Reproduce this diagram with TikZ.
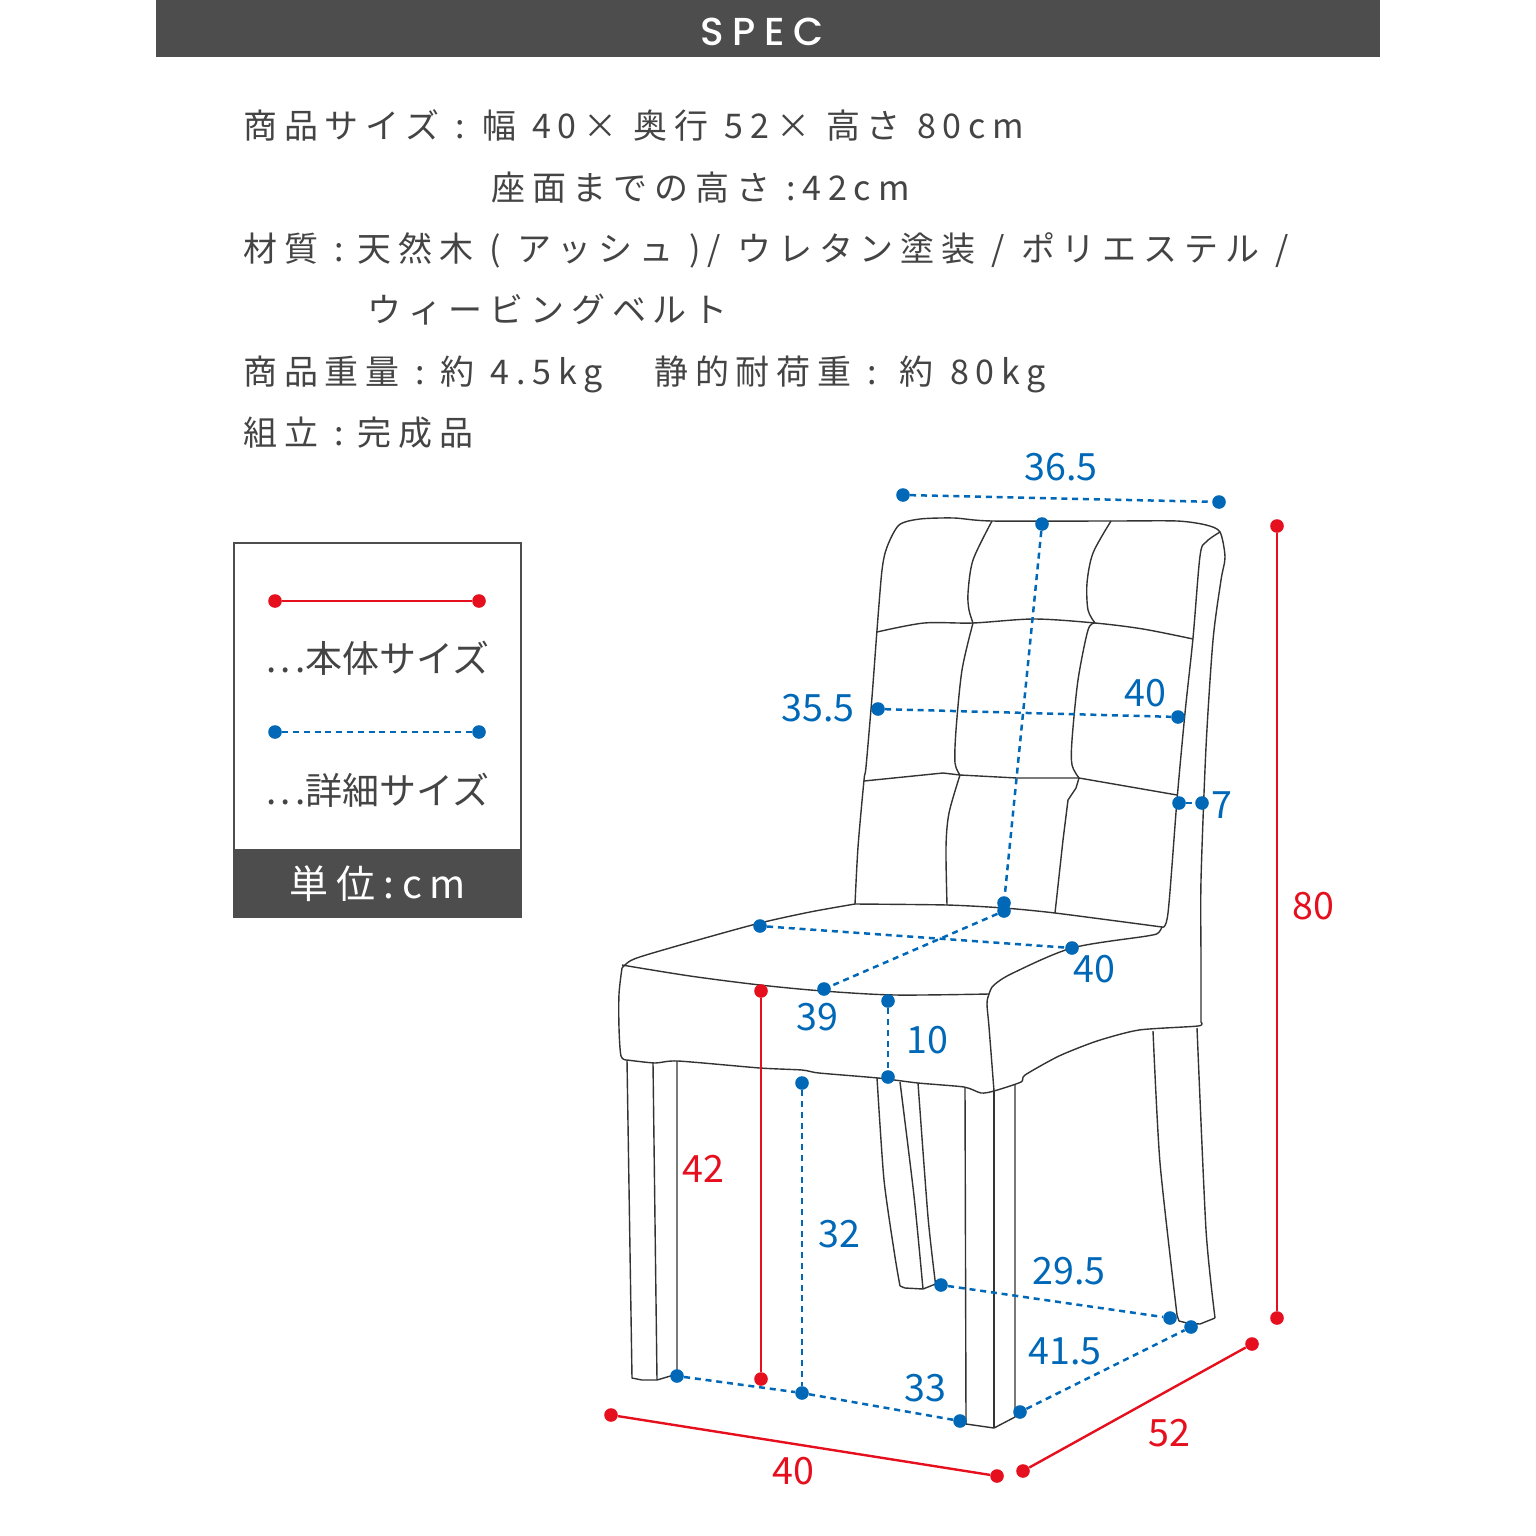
\documentclass[tikz,border=0pt]{standalone}
\usepackage{fontspec}
\usetikzlibrary{positioning}
\setmainfont{Noto Sans CJK JP}
\newfontfamily\spacedfont[LetterSpace=20,WordSpace=1.12]{Noto Sans CJK JP}
\newfontfamily\specfont[LetterSpace=22]{Poppins Medium}
\definecolor{banner}{HTML}{4D4D4D}
\definecolor{textgray}{HTML}{444444}
\definecolor{chairline}{HTML}{333333}
\definecolor{sizered}{HTML}{E60F1E}
\definecolor{sizeblue}{HTML}{0068B7}
\tikzset{
    reddot/.style={circle,fill=sizered,inner sep=0pt,minimum size=6.8pt},
    bluedot/.style={circle,fill=sizeblue,inner sep=0pt,minimum size=6.8pt},
    redline/.style={draw=sizered,line width=1.2pt},
    blueline/.style={draw=sizeblue,line width=1.25pt,dash pattern=on 3pt off 2.4pt},
    redlabel/.style={text=sizered,font=\fontsize{18.8}{20}\selectfont,inner sep=0pt},
    bluelabel/.style={text=sizeblue,font=\fontsize{18.8}{20}\selectfont,inner sep=0pt},
    specline/.style={anchor=base west,inner sep=0pt,text=textgray,font=\spacedfont\fontsize{17}{20}\selectfont},
    seat/.style={draw=chairline,line width=0.7pt,line join=round},
}
\begin{document}
\begin{tikzpicture}[x=0.5pt,y=-0.5pt]
    \useasboundingbox (0,0) rectangle (1536,1536);
    % header
    \fill[banner] (156,0) rectangle (1380,57);
    \node[text=white,inner sep=0pt,font=\specfont\fontsize{19.5}{20}\selectfont] (spec) at (762,32) {SPEC};
    % spec text
    \node[specline] (line1) at (243,139) {商品サイズ :\kern-2pt{} 幅 40× 奥行 52× 高さ 80cm};
    \node[specline] (line2) at (491,200) {座面までの高さ :42cm};
    \node[specline] (line3) at (243,261) {材質 :\kern-3.5pt{} 天然木 ( アッシュ )/ ウレタン塗装 / ポリエステル /};
    \node[specline] (line4) at (367,322) {ウィービングベルト};
    \node[specline] (line5) at (243,384) {商品重量 :\kern-3pt{} 約 4.5kg　\kern5.5pt{}静的耐荷重 :\kern1pt{} 約 80kg};
    \node[specline] (line6) at (243,445) {組立 :\kern-3.5pt{} 完成品};
    % legend
    \draw[banner,line width=1pt] (233.5,542.5) rectangle (520.5,917);
    \fill[banner] (233.5,849) rectangle (520.5,917);
    \node[reddot] (lega) at (275,601) {};
    \node[reddot] (legb) at (479,601) {};
    \draw[redline] (lega) -- (legb);
    \node[bluedot] (legc) at (275,732) {};
    \node[bluedot] (legd) at (479,732) {};
    \draw[blueline] (legc) -- (legd);
    \node[text=textgray,inner sep=0pt,font=\fontsize{18.5}{20}\selectfont] (legmain) at (378,658) {.\kern2pt.\kern2pt.本体サイズ};
    \node[text=textgray,inner sep=0pt,font=\fontsize{18.5}{20}\selectfont] (legdetail) at (378,790) {.\kern2pt.\kern2pt.詳細サイズ};
    \node[text=white,inner sep=0pt,font=\spacedfont\fontsize{19.5}{20}\selectfont] (legunit) at (378,884) {単位:cm};
    % chair back
    \draw[seat] plot[smooth,tension=.45] coordinates {(855,904) (858,847) (864,780) (866,767) (872,697) (877,630) (882,570) (887,547) (899,525) (920,519) (954,518) (992,521) (1111,521) (1177,521) (1206,525) (1220,532) (1225,557) (1221,580) (1213,640) (1206,747) (1201,880) (1201,960) (1201,1022)};
    \draw[seat] plot[smooth,tension=.5] coordinates {(1162,927) (1168,913) (1177,800) (1185,713) (1193,638) (1200,556) (1206,542) (1220,532)};
    \draw[seat] plot[smooth,tension=.5] coordinates {(877,632) (924,623) (973,623) (1034,619) (1095,623) (1143,629) (1193,639)};
    \draw[seat] (864,781) -- (943,773) -- (960,775) -- (1017,778) -- (1079,778) -- (1177,795);
    \draw[seat] plot[smooth,tension=.5] coordinates {(992,521) (973,560) (968,593) (969,610) (973,623)};
    \draw[seat] plot[smooth,tension=.5] coordinates {(973,623) (962,670) (956,730) (955,763) (960,775)};
    \draw[seat] plot[smooth,tension=.5] coordinates {(960,775) (949,813) (946,847) (947,905)};
    \draw[seat] plot[smooth,tension=.5] coordinates {(1111,521) (1093,553) (1087,583) (1088,610) (1095,623)};
    \draw[seat] plot[smooth,tension=.5] coordinates {(1095,623) (1088,630) (1078,680) (1072,740) (1072,765) (1079,778)};
    \draw[seat] (1079,778) -- (1076,788) -- (1068,800) -- (1063,840) -- (1055,913);
    % chair seat
    \draw[seat] plot[smooth,tension=.5] coordinates {(855,904) (810,912) (760,923) (705,938) (646,955) (630,961) (622,968)};
    \draw[seat] plot[smooth,tension=.4] coordinates {(855,904) (947,905) (1004,908) (1055,913) (1162,927)};
    \draw[seat] plot[smooth,tension=.5] coordinates {(622,965) (690,976) (760,985) (823,991) (895,995) (989,994)};
    \draw[seat] plot[smooth,tension=.5] coordinates {(1162,927) (1158,933) (1147,936) (1072,948) (1013,973) (994,985) (989,994) (987,1004) (989,1027) (994,1091)};
    \draw[seat] plot[smooth,tension=.5] coordinates {(622,968) (619,994) (619,1028) (621,1056) (627,1060)};
    \draw[seat] plot[smooth,tension=.4] coordinates {(627,1060) (655,1063) (678,1061) (760,1068) (802,1070) (819,1073) (878,1078) (918,1083) (964,1087) (981,1093) (994,1091) (1021,1082) (1025,1075) (1059,1056) (1097,1041) (1139,1030) (1198,1026) (1201,1022)};
    % chair legs
    \draw[seat] (627,1060) -- (632,1378) -- (642,1380) -- (657,1380) -- (677,1374) -- (677,1061);
    \draw[seat] (653,1063) -- (657,1380);
    \draw[seat] (965,1088) -- (966,1424) -- (994,1428) -- (1015,1417) -- (1015,1085);
    \draw[seat] (994,1090) -- (994,1428);
    \draw[seat] plot[smooth,tension=.4] coordinates {(877,1078) (884,1180) (895,1257) (900,1286)};
    \draw[seat] (900,1286) -- (905,1288) -- (923,1289) -- (935.5,1284);
    \draw[seat] plot[smooth,tension=.4] coordinates {(935.5,1284) (928,1217) (918,1083)};
    \draw[seat] plot[smooth,tension=.4] coordinates {(900,1082) (914,1196) (923,1289)};
    \draw[seat] plot[smooth,tension=.4] coordinates {(1153,1031) (1160,1163) (1177,1315)};
    \draw[seat] (1177,1315) -- (1179,1321) -- (1187,1323) -- (1200,1324) -- (1215,1318);
    \draw[seat] plot[smooth,tension=.4] coordinates {(1215,1318) (1206,1230) (1197,1028)};
    % detail sizes
    \node[bluedot] (topa) at (903,495) {};
    \node[bluedot] (topb) at (1219,502) {};
    \draw[blueline] (topa) -- (topb);
    \node[bluedot] (backa) at (1042,524) {};
    \node[bluedot] (backb) at (1004,903) {};
    \draw[blueline] (backa) -- (backb);
    \node[bluedot] (mida) at (878,709) {};
    \node[bluedot] (midb) at (1178,717) {};
    \draw[blueline] (mida) -- (midb);
    \node[bluedot] (thicka) at (1179,803) {};
    \node[bluedot] (thickb) at (1202,803) {};
    \draw[blueline] (thicka) -- (thickb);
    \node[bluedot] (seata) at (760,926) {};
    \node[bluedot] (seatb) at (1072,948) {};
    \draw[blueline] (seata) -- (seatb);
    \node[bluedot] (deepa) at (1004,911) {};
    \node[bluedot] (deepb) at (824,989) {};
    \draw[blueline] (deepa) -- (deepb);
    \node[bluedot] (cusha) at (888,1001) {};
    \node[bluedot] (cushb) at (888,1077) {};
    \draw[blueline] (cusha) -- (cushb);
    \node[bluedot] (undera) at (802,1083) {};
    \node[bluedot] (underb) at (802,1393) {};
    \draw[blueline] (undera) -- (underb);
    \node[bluedot] (fronta) at (677,1376) {};
    \node[bluedot] (frontb) at (960,1421) {};
    \draw[blueline] (fronta) -- (underb) -- (frontb);
    \node[bluedot] (reara) at (941,1285) {};
    \node[bluedot] (rearb) at (1170,1318) {};
    \draw[blueline] (reara) -- (rearb);
    \node[bluedot] (sidea) at (1020,1412) {};
    \node[bluedot] (sideb) at (1191,1327) {};
    \draw[blueline] (sidea) -- (sideb);
    % body sizes
    \node[reddot] (higha) at (761,991) {};
    \node[reddot] (highb) at (761,1379) {};
    \draw[redline] (higha) -- (highb);
    \node[reddot] (tota) at (1277,526) {};
    \node[reddot] (totb) at (1277,1318) {};
    \draw[redline] (tota) -- (totb);
    \node[reddot] (widea) at (611,1415) {};
    \node[reddot] (wideb) at (997,1476) {};
    \draw[redline] (widea) -- (wideb);
    \node[reddot] (deptha) at (1023,1471) {};
    \node[reddot] (depthb) at (1252,1344) {};
    \draw[redline] (deptha) -- (depthb);
    % labels
    \node[bluelabel] (ltop) at (1061,467) {36.5};
    \node[bluelabel] (lmida) at (818,708) {35.5};
    \node[bluelabel] (lmidb) at (1145,693) {40};
    \node[bluelabel] (lthick) at (1222,805) {7};
    \node[bluelabel] (lseat) at (1094,969) {40};
    \node[bluelabel] (ldeep) at (817,1017) {39};
    \node[bluelabel] (lcush) at (927,1040) {10};
    \node[bluelabel] (lunder) at (839,1234) {32};
    \node[bluelabel] (lrear) at (1069,1271) {29.5};
    \node[bluelabel] (lfront) at (925,1388) {33};
    \node[bluelabel] (lside) at (1065,1351) {41.5};
    \node[redlabel] (lhigh) at (703,1169) {42};
    \node[redlabel] (ltot) at (1313,906) {80};
    \node[redlabel] (ldepth) at (1169,1433) {52};
    \node[redlabel] (lwide) at (793,1471) {40};
\end{tikzpicture}
\end{document}
